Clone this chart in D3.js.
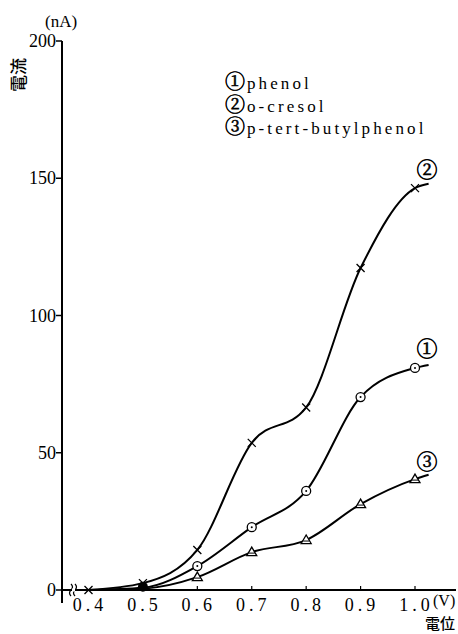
<!DOCTYPE html>
<html><head><meta charset="utf-8">
<script src="https://cdn.jsdelivr.net/npm/d3@7"></script>
<style>
body{margin:0;background:#fff}svg{display:block}
.sf{font-family:"Liberation Serif","DejaVu Serif","Noto Serif","Noto Serif CJK JP","Times New Roman",serif}
.cj{font-family:"Noto Sans CJK JP","Noto Sans CJK SC",sans-serif}
.cn{stroke:#000;stroke-width:0.6}
</style>
</head><body>
<svg id="c" width="458" height="634"></svg>
<script>
const potentials = [0.4, 0.5, 0.6, 0.7, 0.8, 0.9, 1.0];
const phenol = [0, 0.8, 8.7, 22.9, 36.1, 70.3, 80.9];
const oCresol = [0, 2.5, 14.6, 53.6, 66.5, 117.3, 146.4];
const pTertButylphenol = [0, 0.5, 4.7, 13.8, 18.2, 31.3, 40.4];
const tailPotential = 1.025;
const tailValues = {phenol: 82, oCresol: 148, pTertButylphenol: 42};
const yTicks = [0, 50, 100, 150, 200];
const xTicks = [0.4, 0.5, 0.6, 0.7, 0.8, 0.9, 1.0];
const legendMarks = ["①", "②", "③"];
const legendNames = ["phenol", "o-cresol", "p-tert-butylphenol"];
const curveLabels = ["①", "②", "③"];

const svg = d3.select("#c");
const x = d3.scaleLinear().domain([0.4, 1.0]).range([88.5, 415]);
const y = d3.scaleLinear().domain([0, 200]).range([590, 41]);

// axes lines
svg.append("line").attr("x1", 62).attr("x2", 62).attr("y1", y(200)).attr("y2", 603)
  .attr("stroke", "#000").attr("stroke-width", 2);
svg.append("line").attr("x1", 62).attr("x2", 456).attr("y1", y(0)).attr("y2", y(0))
  .attr("stroke", "#000").attr("stroke-width", 2);

// y ticks
const yg = svg.append("g");
yg.selectAll("line").data(yTicks).join("line")
  .attr("x1", 56).attr("x2", 62).attr("y1", d => y(d)).attr("y2", d => y(d))
  .attr("stroke", "#000").attr("stroke-width", 1.5);
yg.selectAll("text").data(yTicks).join("text").attr("class", "sf")
  .attr("x", 56).attr("y", d => y(d) + 6).attr("text-anchor", "end")
  .attr("font-size", 18).text(d => d);

// x ticks
const xg = svg.append("g");
xg.selectAll("line").data(xTicks.filter(d => d > 0.45)).join("line")
  .attr("x1", d => x(d)).attr("x2", d => x(d)).attr("y1", y(0)).attr("y2", y(0) - 4)
  .attr("stroke", "#000").attr("stroke-width", 1.2);
xg.selectAll("text").data(xTicks).join("text").attr("class", "sf")
  .attr("x", d => x(d) + 1.5).attr("y", 611).attr("text-anchor", "middle")
  .attr("font-size", 18).attr("letter-spacing", 4)
  .text(d => d.toFixed(1));

// break mark
const bk = svg.append("g").attr("fill", "none").attr("stroke", "#000").attr("stroke-width", 1.2);
[71, 75].forEach(bx => {
  bk.append("path").attr("d", `M${bx},${y(0) - 6} q3,3 0,6 q-3,3 0,6`);
});
svg.append("rect").attr("x", 72).attr("y", y(0) - 1.5).attr("width", 3).attr("height", 3).attr("fill", "#fff");

// unit labels
svg.append("text").attr("class", "sf").attr("x", 45).attr("y", 27).attr("font-size", 17).text("(nA)");
svg.append("text").attr("class", "sf").attr("x", 433).attr("y", 606).attr("font-size", 16).text("(V)");
svg.append("text").attr("class", "cj").attr("transform", "translate(25,75) rotate(-90)").attr("text-anchor", "middle")
  .attr("font-size", 17).attr("font-weight", 500).text("電流");
svg.append("text").attr("class", "cj").attr("x", 455).attr("y", 629).attr("text-anchor", "end")
  .attr("font-size", 15).attr("font-weight", 500).text("電位");

// legend
const lg = svg.append("g");
legendNames.forEach((n, i) => {
  const t = lg.append("text").attr("class", "sf").attr("x", 225).attr("y", 89 + i * 22.5);
  t.append("tspan").attr("class", "cn").attr("font-size", 20).text(legendMarks[i]);
  t.append("tspan").attr("dx", 2).attr("font-size", 17).attr("letter-spacing", 3.1).text(n);
});

// curves
const series = [
  {name: "phenol", vals: phenol, tail: tailValues.phenol, mark: "circle", label: curveLabels[0]},
  {name: "oCresol", vals: oCresol, tail: tailValues.oCresol, mark: "cross", label: curveLabels[1]},
  {name: "pTertButylphenol", vals: pTertButylphenol, tail: tailValues.pTertButylphenol, mark: "tri", label: curveLabels[2]}
];
const line = d3.line().x(d => x(d[0])).y(d => y(d[1])).curve(d3.curveMonotoneX);
series.forEach(s => {
  const pts = potentials.map((p, i) => [p, s.vals[i]]).concat([[tailPotential, s.tail]]);
  svg.append("path").attr("d", line(pts)).attr("fill", "none").attr("stroke", "#000").attr("stroke-width", 2);
  const mg = svg.append("g").attr("stroke", "#000").attr("fill", "none");
  potentials.forEach((p, i) => {
    const cx = x(p), cy = y(s.vals[i]);
    if (p === 0.5) return;
    if (p === 0.4 && s.mark !== "cross") return;
    if (s.mark === "cross") {
      mg.append("path").attr("d", `M${cx-4},${cy-4}L${cx+4},${cy+4}M${cx-4},${cy+4}L${cx+4},${cy-4}`).attr("stroke-width", 1.3);
    } else if (s.mark === "circle") {
      mg.append("circle").attr("cx", cx).attr("cy", cy).attr("r", 4.5).attr("fill", "#fff").attr("stroke-width", 1.3);
      mg.append("circle").attr("cx", cx).attr("cy", cy).attr("r", 1).attr("fill", "#000").attr("stroke", "none");
    } else {
      mg.append("path").attr("d", `M${cx},${cy-5}L${cx+5},${cy+3.5}L${cx-5},${cy+3.5}Z`).attr("fill", "#fff").attr("stroke-width", 1.3);
      mg.append("path").attr("d", `M${cx-3},${cy+1}L${cx+3},${cy+1}`).attr("stroke-width", 1);
    }
  });
  if (s.mark === "cross") {
    const cx = x(0.5), cy = y(s.vals[1]);
    mg.append("path").attr("d", `M${cx-4},${cy-4}L${cx+4},${cy+4}M${cx-4},${cy+4}L${cx+4},${cy-4}`).attr("stroke-width", 1.3);
  }
  if (s.mark === "circle") {
    svg.append("circle").attr("cx", x(0.5)).attr("cy", y(s.vals[1]) - 1).attr("r", 5).attr("fill", "#000");
  }
  const ly = {phenol: 356, oCresol: 177, pTertButylphenol: 469}[s.name];
  svg.append("text").attr("class", "sf cn").attr("x", 427).attr("y", ly).attr("text-anchor", "middle")
    .attr("font-size", 21).text(s.label);
});
</script>
</body></html>
